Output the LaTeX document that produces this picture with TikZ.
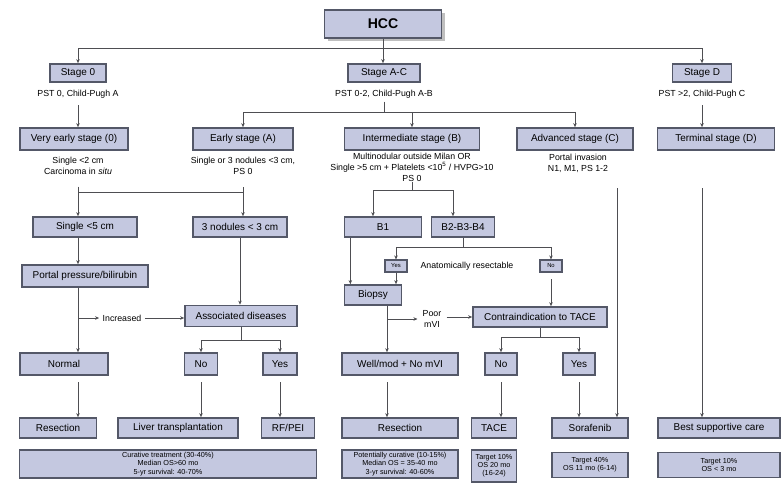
\documentclass[tikz,border=0pt]{standalone}
\usepackage{fontspec}
\setmainfont{Liberation Sans}
\usetikzlibrary{arrows.meta,shadows}
\definecolor{boxfill}{RGB}{196,200,224}
\definecolor{boxline}{RGB}{84,88,104}
\definecolor{linkgray}{RGB}{78,78,82}
\tikzset{
  box/.style={draw=boxline, fill=boxfill, line width=1.4pt, inner sep=1pt,
    font=\fontsize{8.5}{9.5}\selectfont},
  sz/.style 2 args={minimum width=#1*0.3mm, minimum height=#2*0.3mm},
  tiny/.style={box, line width=0.9pt, font=\fontsize{5}{6}\selectfont},
  outcome/.style={box, align=center, font=\fontsize{6.2}{7}\selectfont},
  note/.style={align=center, inner sep=0pt, font=\fontsize{7.5}{9.5}\selectfont},
  link/.style={draw=linkgray, line width=0.6pt},
  arr/.style={link, -{Stealth[length=3.5pt,width=3pt]}}
}
\begin{document}
\begin{tikzpicture}[x=0.3mm,y=-0.3mm]
  \useasboundingbox (0,0) rectangle (782,482);
  \node[box, sz={117}{28}, font=\bfseries\fontsize{12}{14}\selectfont, drop shadow] (hcc) at (383,24) {HCC};
  \node[box, sz={56}{18}] (st0) at (78,73) {Stage 0};
  \node[box, sz={72}{18}] (stac) at (384,73) {Stage A-C};
  \node[box, sz={59}{18}] (std) at (702,73) {Stage D};
  \node[note] (st0sub) at (78,94) {PST 0, Child-Pugh A};
  \node[note] (stacsub) at (384,94) {PST 0-2, Child-Pugh A-B};
  \node[note] (stdsub) at (702,94) {PST >2, Child-Pugh C};

  \node[box, sz={108}{22}] (vearly) at (74,139) {Very early stage (0)};
  \node[box, sz={100}{22}] (early) at (243,139) {Early stage (A)};
  \node[box, sz={135}{22}] (inter) at (412,139) {Intermediate stage (B)};
  \node[box, sz={116}{22}] (adv) at (575,139) {Advanced stage (C)};
  \node[box, sz={117}{22}] (term) at (716,139) {Terminal stage (D)};
  \node[note] (vsub) at (78,166) {Single <2 cm\\Carcinoma in \textit{situ}};
  \node[note] (esub) at (243,166) {Single or 3 nodules <3 cm,\\PS 0};
  \node[note] (isub) at (412,167) {Multinodular outside Milan OR\\Single >5 cm + Platelets <10\textsuperscript{5} / HVPG>10\\PS 0};
  \node[note] (asub) at (578,163) {Portal invasion\\N1, M1, PS 1-2};

  \node[box, sz={104}{20}] (single5) at (85,227) {Single <5 cm};
  \node[box, sz={94}{20}] (nod3) at (240,227) {3 nodules < 3 cm};
  \node[box, sz={77}{20}] (bone) at (383,227) {B1};
  \node[box, sz={63}{20}] (btwo) at (463,227) {B2-B3-B4};
  \node[box, sz={126}{22}] (portal) at (85,276) {Portal pressure/bilirubin};
  \node[tiny, sz={22}{12}] (yessm) at (396,266) {Yes};
  \node[tiny, sz={22}{12}] (nosm) at (551,266) {No};
  \node[note] (anat) at (467,266) {Anatomically resectable};
  \node[box, sz={57}{20}] (biopsy) at (373,295) {Biopsy};
  \node[box, sz={112}{21}] (assoc) at (241,316) {Associated diseases};
  \node[box, sz={134}{20}] (contra) at (540,317) {Contraindication to TACE};
  \node[note] (incr) at (122,318) {Increased};
  \node[note] (poor) at (432,319) {Poor\\mVI};

  \node[box, sz={88}{22}] (normal) at (64,364) {Normal};
  \node[box, sz={33}{22}] (noa) at (201,364) {No};
  \node[box, sz={34}{22}] (yesa) at (280,364) {Yes};
  \node[box, sz={116}{22}] (wellmod) at (400,364) {Well/mod + No mVI};
  \node[box, sz={32}{22}] (nob) at (501,364) {No};
  \node[box, sz={32}{22}] (yesb) at (579,364) {Yes};

  \node[box, sz={77}{20}] (resA) at (58,428) {Resection};
  \node[box, sz={120}{20}] (lt) at (178,428) {Liver transplantation};
  \node[box, sz={53}{20}] (rf) at (288,428) {RF/PEI};
  \node[box, sz={116}{20}] (resB) at (400,428) {Resection};
  \node[box, sz={45}{20}] (tace) at (494,428) {TACE};
  \node[box, sz={76}{20}] (sor) at (590,428) {Sorafenib};
  \node[box, sz={122}{20}] (bsc) at (719,428) {Best supportive care};

  \node[outcome, sz={297}{28}] (cur) at (168,464) {Curative treatment (30-40\%)\\Median OS>60 mo\\5-yr survival: 40-70\%};
  \node[outcome, sz={116}{28}] (pot) at (400,464) {Potentially curative (10-15\%)\\Median OS = 35-40 mo\\3-yr survival: 40-60\%};
  \node[outcome, sz={45}{32}] (tgtt) at (494,466) {Target 10\%\\OS 20 mo\\(16-24)};
  \node[outcome, sz={76}{25}] (tgts) at (590,465) {Target 40\%\\OS 11 mo (6-14)};
  \node[outcome, sz={122}{25}] (tgtb) at (719,465) {Target 10\%\\OS < 3 mo};

  \coordinate (topbar) at (383,48);
  \draw[arr] (hcc.south) -- (hcc.south |- stac.north);
  \draw[link] (topbar -| st0) -- (topbar -| std);
  \foreach \n in {st0,std} \draw[arr] (topbar -| \n) -- (\n.north);
  \draw[arr, shorten <=2mm] (st0sub.south) -- (st0sub.south |- vearly.north);
  \draw[arr, shorten <=2mm] (stdsub.south) -- (stdsub.south |- term.north);
  \coordinate (acbar) at (384,112);
  \draw[link, shorten <=1mm] (stacsub.south) -- (acbar);
  \draw[link] (acbar -| early) -- (acbar -| adv);
  \foreach \n in {early,inter,adv} \draw[arr] (acbar -| \n) -- (\n.north);

  \coordinate (vebar) at (160,192);
  \draw[link, shorten <=3.5mm, shorten >=3.5mm] (vsub.south) -- (vsub.south |- vebar) -- (esub.south |- vebar) -- (esub.south);
  \foreach \n/\m in {vsub/single5,esub/nod3} \draw[arr] (\n.south |- vebar) -- (\n.south |- \m.north);
  \draw[arr] (single5.south -| vsub) -- (portal.north -| vsub);
  \draw[arr] (nod3.south) -- (nod3.south |- assoc.north);
  \draw[arr] (portal.south -| vsub) -- (normal.north -| vsub);
  \draw[arr, shorten >=1mm] (vsub |- incr) -- (incr.west);
  \draw[arr, shorten <=1mm] (incr.east) -- (incr.east -| assoc.west);
  \coordinate (asbar) at (241,340);
  \draw[link] (assoc.south) -- (asbar);
  \draw[link] (asbar -| noa) -- (asbar -| yesa);
  \foreach \n in {noa,yesa} \draw[arr] (asbar -| \n) -- (\n.north);
  \draw[arr, shorten <=2mm] (normal.south -| vsub) -- (resA.north -| vsub);
  \draw[arr, shorten <=2mm] (noa.south) -- (noa.south |- lt.north);
  \draw[arr, shorten <=2mm] (yesa.south) -- (yesa.south |- rf.north);

  \coordinate (ileft) at (373,190);
  \coordinate (iright) at (453,190);
  \draw[link] (isub.south) -- (isub.south |- ileft);
  \draw[link] (ileft) -- (iright);
  \draw[arr] (ileft) -- (ileft |- bone.north);
  \draw[arr] (iright) -- (iright |- btwo.north);
  \draw[arr] ([xshift=2mm]bone.south west) -- ([xshift=2mm]bone.south west |- biopsy.north);
  \coordinate (rbar) at (463,247);
  \draw[link] (btwo.south) -- (rbar);
  \draw[link] (rbar -| yessm) -- (rbar -| nosm);
  \foreach \n in {yessm,nosm} \draw[arr] (rbar -| \n) -- (\n.north);
  \draw[arr] (yessm.south) -- (yessm.south |- biopsy.north);
  \draw[arr, shorten <=2mm] (nosm.south) -- (nosm.south |- contra.north);
  \coordinate (poorfork) at (387,319);
  \draw[arr] (biopsy.south -| poorfork) -- (wellmod.north -| poorfork);
  \draw[arr, shorten >=1.5mm] (poorfork) -- (poor.west |- poorfork);
  \draw[arr, shorten <=1.5mm] (poor.east |- contra) -- (contra.west);
  \coordinate (cbar) at (540,337);
  \draw[link] (contra.south) -- (cbar);
  \draw[link] (cbar -| nob) -- (cbar -| yesb);
  \foreach \n in {nob,yesb} \draw[arr] (cbar -| \n) -- (\n.north);
  \draw[arr, shorten <=2mm] (wellmod.south -| poorfork) -- (resB.north -| poorfork);
  \draw[arr, shorten <=2mm] (nob.south) -- (nob.south |- tace.north);
  \draw[arr, shorten <=2mm] (yesb.south) -- (yesb.south |- sor.north);
  \coordinate (advtop) at (617,188);
  \draw[arr] (advtop) -- (advtop |- sor.north);
  \draw[arr] (std |- advtop) -- (std |- bsc.north);
\end{tikzpicture}
\end{document}
